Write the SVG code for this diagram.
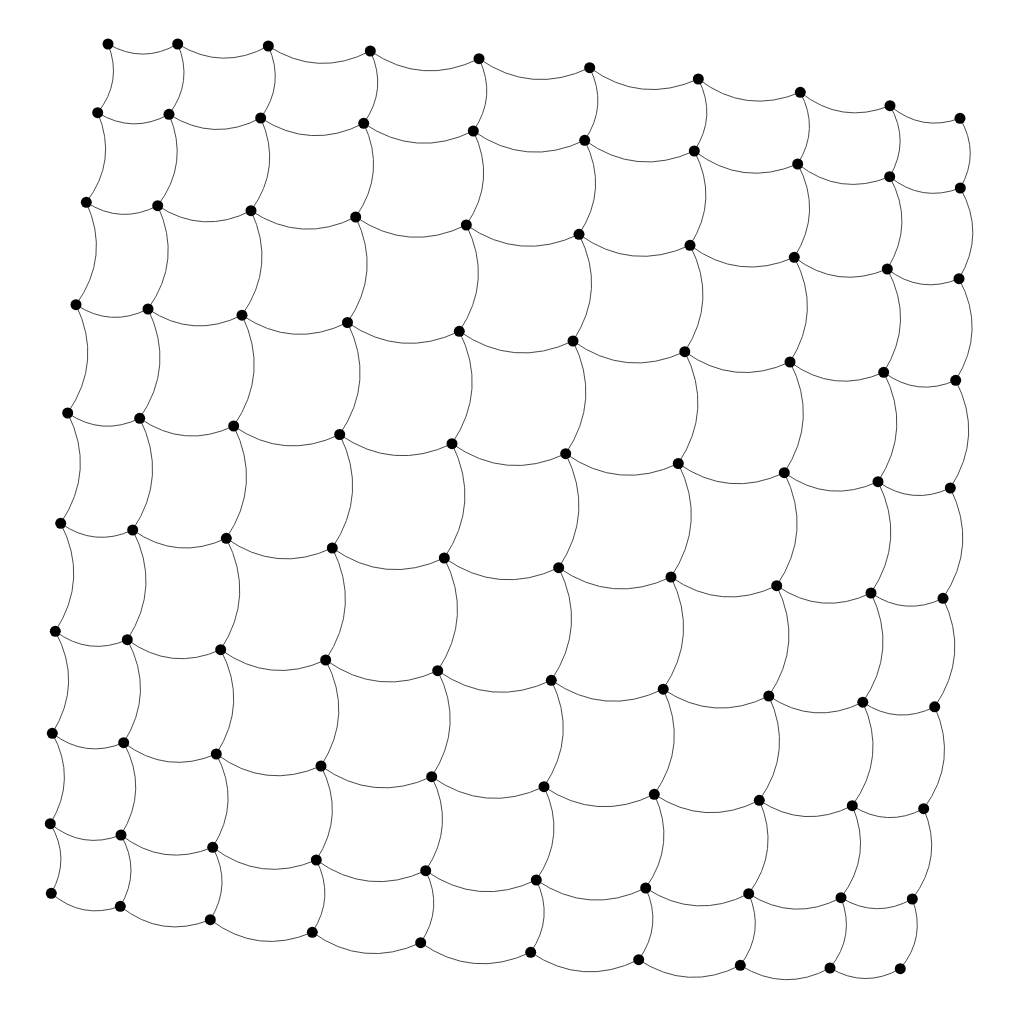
<svg xmlns="http://www.w3.org/2000/svg" width="1024" height="1024" viewBox="0 0 1024 1024">
<style>
.e{fill:none;stroke:#333;stroke-width:0.9}
.n{fill:#000}
</style>
<rect width="1024" height="1024" fill="#fff"/>
<g id="connectors">
<path class="e" d="M108 44Q142.9 64.2 177.7 44"/>
<path class="e" d="M177.7 44Q222.4 71.3 268.3 46"/>
<path class="e" d="M268.3 46Q317.9 78.1 370.3 51"/>
<path class="e" d="M370.3 51Q422.4 86.4 479 58.7"/>
<path class="e" d="M479 58.7Q531.7 95.3 589.7 67.7"/>
<path class="e" d="M589.7 67.7Q640.7 104.8 698.3 79"/>
<path class="e" d="M698.3 79Q745.4 115.2 800.3 92.3"/>
<path class="e" d="M800.3 92.3Q841.3 125 890 105.7"/>
<path class="e" d="M890 105.7Q921.3 132.3 960 118.3"/>
<path class="e" d="M97.7 112.7Q132.9 134.2 169 114.3"/>
<path class="e" d="M169 114.3Q213.8 142.7 260.7 118"/>
<path class="e" d="M260.7 118Q310.7 150.5 363.7 123.3"/>
<path class="e" d="M363.7 123.3Q416.3 158.9 473.3 131"/>
<path class="e" d="M473.3 131Q526.3 168 584.7 140.3"/>
<path class="e" d="M584.7 140.3Q636.4 177.4 694.3 151"/>
<path class="e" d="M694.3 151Q742.2 187.5 797.7 164"/>
<path class="e" d="M797.7 164Q840 197 889.7 176.7"/>
<path class="e" d="M889.7 176.7Q921.7 202.8 960.3 188"/>
<path class="e" d="M86.3 202.3Q121 224.7 157.7 205.7"/>
<path class="e" d="M157.7 205.7Q202.9 235.3 251 210.7"/>
<path class="e" d="M251 210.7Q301.5 244.2 355.7 217"/>
<path class="e" d="M355.7 217Q408.7 253.1 466.3 225"/>
<path class="e" d="M466.3 225Q520 262.3 579 234.3"/>
<path class="e" d="M579 234.3Q631.3 272 690 245.3"/>
<path class="e" d="M690 245.3Q738.7 281.6 794.3 257.3"/>
<path class="e" d="M794.3 257.3Q837.4 290.1 887.3 269"/>
<path class="e" d="M887.3 269Q920.3 294.6 959 278.7"/>
<path class="e" d="M76 304.7Q110.8 327.7 148 309"/>
<path class="e" d="M148 309Q193.2 339.4 242 315.2"/>
<path class="e" d="M242 315.2Q292.6 349.5 347.5 322.5"/>
<path class="e" d="M347.5 322.5Q400.9 359.3 459.3 331.3"/>
<path class="e" d="M459.3 331.3Q513.3 369.1 573 341"/>
<path class="e" d="M573 341Q625.8 378.8 684.8 351.7"/>
<path class="e" d="M684.8 351.7Q734.4 387.4 790 362"/>
<path class="e" d="M790 362Q833.9 394.3 883.7 372.3"/>
<path class="e" d="M883.7 372.3Q917.4 397.2 955.7 380.3"/>
<path class="e" d="M67.7 413Q102.2 436.5 139.7 418.3"/>
<path class="e" d="M139.7 418.3Q184.5 449.4 233.7 426"/>
<path class="e" d="M233.7 426Q284.2 461 339.7 434.5"/>
<path class="e" d="M339.7 434.5Q393.2 471.7 452 443.7"/>
<path class="e" d="M452 443.7Q506 481.7 565.7 453.7"/>
<path class="e" d="M565.7 453.7Q619.2 491.3 678.3 463.5"/>
<path class="e" d="M678.3 463.5Q728.6 498.8 784.3 472.7"/>
<path class="e" d="M784.3 472.7Q828.5 504.4 878 481.7"/>
<path class="e" d="M878 481.7Q912.3 505.8 950.3 488"/>
<path class="e" d="M60.7 523.3Q94.8 547.5 132.7 530"/>
<path class="e" d="M132.7 530Q177.1 561.3 226.3 538.3"/>
<path class="e" d="M226.3 538.3Q276.5 573.9 332.3 548"/>
<path class="e" d="M332.3 548Q385.4 585.5 444.3 558"/>
<path class="e" d="M444.3 558Q498.7 596 558.7 567.7"/>
<path class="e" d="M558.7 567.7Q612.2 604.9 671 577"/>
<path class="e" d="M671 577Q721.3 612 776.7 585.7"/>
<path class="e" d="M776.7 585.7Q821.7 616.7 871 593"/>
<path class="e" d="M871 593Q905.5 616.5 943 598.3"/>
<path class="e" d="M55.3 631.3Q88.9 656.4 127.3 639.7"/>
<path class="e" d="M127.3 639.7Q171.1 671.8 220.7 649.7"/>
<path class="e" d="M220.7 649.7Q270.2 685.3 325.7 660"/>
<path class="e" d="M325.7 660Q378.6 697.8 437.7 670.7"/>
<path class="e" d="M437.7 670.7Q491.7 708.4 551.3 680.3"/>
<path class="e" d="M551.3 680.3Q604.7 717.2 663.2 689.2"/>
<path class="e" d="M663.2 689.2Q714 723.2 768.8 696"/>
<path class="e" d="M768.8 696Q814 726.4 862.8 702.2"/>
<path class="e" d="M862.8 702.2Q897.4 725.4 934.7 706.8"/>
<path class="e" d="M52.3 733.3Q85.3 758.7 123.7 742.7"/>
<path class="e" d="M123.7 742.7Q166.7 775.2 216.3 754"/>
<path class="e" d="M216.3 754Q265.2 790.4 321 766"/>
<path class="e" d="M321 766Q373.3 803.5 431.7 776.7"/>
<path class="e" d="M431.7 776.7Q485 814.3 544 786.7"/>
<path class="e" d="M544 786.7Q597 822.5 654.3 794.3"/>
<path class="e" d="M654.3 794.3Q705.1 827.8 759.3 800.3"/>
<path class="e" d="M759.3 800.3Q804.2 830 852.3 805.7"/>
<path class="e" d="M852.3 805.7Q887.1 827.9 923.7 808.7"/>
<path class="e" d="M50.3 823.7Q82.4 849.9 121 835"/>
<path class="e" d="M121 835Q163.3 867.7 212.7 847.3"/>
<path class="e" d="M212.7 847.3Q260.8 883.7 316.3 860"/>
<path class="e" d="M316.3 860Q367.9 897.1 425.7 870.7"/>
<path class="e" d="M425.7 870.7Q478.3 907.4 536.3 880"/>
<path class="e" d="M536.3 880Q588.7 915.7 645.7 888"/>
<path class="e" d="M645.7 888Q695.6 920.7 748.7 893.7"/>
<path class="e" d="M748.7 893.7Q793.7 922.5 841 897.7"/>
<path class="e" d="M841 897.7Q876.3 919 912.3 899"/>
<path class="e" d="M51.3 893.3Q82 919.8 120.3 906.3"/>
<path class="e" d="M120.3 906.3Q161.4 939.1 210.3 919.7"/>
<path class="e" d="M210.3 919.7Q257.6 955.6 312.3 932.3"/>
<path class="e" d="M312.3 932.3Q363.5 968.9 420.7 942.7"/>
<path class="e" d="M420.7 942.7Q472.9 979.4 530.7 952.3"/>
<path class="e" d="M530.7 952.3Q582.6 987.3 638.7 959.7"/>
<path class="e" d="M638.7 959.7Q687.9 992 740.3 965.3"/>
<path class="e" d="M740.3 965.3Q784.4 992.7 830 968"/>
<path class="e" d="M830 968Q865 988.7 900.3 968.7"/>
<path class="e" d="M108 44Q122.8 81.3 97.7 112.7"/>
<path class="e" d="M97.7 112.7Q118 160.8 86.3 202.3"/>
<path class="e" d="M86.3 202.3Q110.8 256.5 76 304.7"/>
<path class="e" d="M76 304.7Q103.3 361.3 67.7 413"/>
<path class="e" d="M67.7 413Q96.2 470.2 60.7 523.3"/>
<path class="e" d="M60.7 523.3Q89.3 578.9 55.3 631.3"/>
<path class="e" d="M55.3 631.3Q83.4 683.2 52.3 733.3"/>
<path class="e" d="M52.3 733.3Q77.5 779.1 50.3 823.7"/>
<path class="e" d="M50.3 823.7Q71 858.2 51.3 893.3"/>
<path class="e" d="M177.7 44Q193.7 81.7 169 114.3"/>
<path class="e" d="M169 114.3Q189.9 163.3 157.7 205.7"/>
<path class="e" d="M157.7 205.7Q182.8 260.2 148 309"/>
<path class="e" d="M148 309Q175.6 366.1 139.7 418.3"/>
<path class="e" d="M139.7 418.3Q168.6 476.2 132.7 530"/>
<path class="e" d="M132.7 530Q161.8 586.4 127.3 639.7"/>
<path class="e" d="M127.3 639.7Q155.4 692.2 123.7 742.7"/>
<path class="e" d="M123.7 742.7Q149.1 789.6 121 835"/>
<path class="e" d="M121 835Q141.3 870.9 120.3 906.3"/>
<path class="e" d="M268.3 46Q285.4 84.2 260.7 118"/>
<path class="e" d="M260.7 118Q282.7 167.2 251 210.7"/>
<path class="e" d="M251 210.7Q276.8 265.6 242 315.2"/>
<path class="e" d="M242 315.2Q270 373 233.7 426"/>
<path class="e" d="M233.7 426Q262.6 484.3 226.3 538.3"/>
<path class="e" d="M226.3 538.3Q255.8 595.6 220.7 649.7"/>
<path class="e" d="M220.7 649.7Q248.8 703.1 216.3 754"/>
<path class="e" d="M216.3 754Q241.6 801.7 212.7 847.3"/>
<path class="e" d="M212.7 847.3Q232.5 884.2 210.3 919.7"/>
<path class="e" d="M370.3 51Q388 89.1 363.7 123.3"/>
<path class="e" d="M363.7 123.3Q386.9 172.5 355.7 217"/>
<path class="e" d="M355.7 217Q382.2 272.1 347.5 322.5"/>
<path class="e" d="M347.5 322.5Q376.1 380.8 339.7 434.5"/>
<path class="e" d="M339.7 434.5Q368.9 493.4 332.3 548"/>
<path class="e" d="M332.3 548Q361.5 605.9 325.7 660"/>
<path class="e" d="M325.7 660Q354.1 714.4 321 766"/>
<path class="e" d="M321 766Q345.9 814.4 316.3 860"/>
<path class="e" d="M316.3 860Q335.3 897.3 312.3 932.3"/>
<path class="e" d="M479 58.7Q497.1 96.5 473.3 131"/>
<path class="e" d="M473.3 131Q497.1 180 466.3 225"/>
<path class="e" d="M466.3 225Q493.6 280.2 459.3 331.3"/>
<path class="e" d="M459.3 331.3Q488.3 389.6 452 443.7"/>
<path class="e" d="M452 443.7Q481.3 503.1 444.3 558"/>
<path class="e" d="M444.3 558Q473.7 616.3 437.7 670.7"/>
<path class="e" d="M437.7 670.7Q465.4 725.4 431.7 776.7"/>
<path class="e" d="M431.7 776.7Q456 825.4 425.7 870.7"/>
<path class="e" d="M425.7 870.7Q444.1 908.2 420.7 942.7"/>
<path class="e" d="M589.7 67.7Q608.3 105.5 584.7 140.3"/>
<path class="e" d="M584.7 140.3Q609.1 189 579 234.3"/>
<path class="e" d="M579 234.3Q606.9 289.4 573 341"/>
<path class="e" d="M573 341Q602 399.5 565.7 453.7"/>
<path class="e" d="M565.7 453.7Q595.3 512.7 558.7 567.7"/>
<path class="e" d="M558.7 567.7Q587.7 626.2 551.3 680.3"/>
<path class="e" d="M551.3 680.3Q578.5 735.6 544 786.7"/>
<path class="e" d="M544 786.7Q567.2 835.6 536.3 880"/>
<path class="e" d="M536.3 880Q554.5 917.8 530.7 952.3"/>
<path class="e" d="M698.3 79Q717.2 116.2 694.3 151"/>
<path class="e" d="M694.3 151Q719.5 199.4 690 245.3"/>
<path class="e" d="M690 245.3Q718.3 300 684.8 351.7"/>
<path class="e" d="M684.8 351.7Q714 409.5 678.3 463.5"/>
<path class="e" d="M678.3 463.5Q707.6 522.4 671 577"/>
<path class="e" d="M671 577Q699.6 635.4 663.2 689.2"/>
<path class="e" d="M663.2 689.2Q689.2 744.3 654.3 794.3"/>
<path class="e" d="M654.3 794.3Q677.2 843.6 645.7 888"/>
<path class="e" d="M645.7 888Q663 925.9 638.7 959.7"/>
<path class="e" d="M800.3 92.3Q819.8 128.9 797.7 164"/>
<path class="e" d="M797.7 164Q823.1 211.6 794.3 257.3"/>
<path class="e" d="M794.3 257.3Q822.5 310.9 790 362"/>
<path class="e" d="M790 362Q819.3 419 784.3 472.7"/>
<path class="e" d="M784.3 472.7Q813.3 531.4 776.7 585.7"/>
<path class="e" d="M776.7 585.7Q804.7 643.1 768.8 696"/>
<path class="e" d="M768.8 696Q794.3 750.9 759.3 800.3"/>
<path class="e" d="M759.3 800.3Q781.1 850.1 748.7 893.7"/>
<path class="e" d="M748.7 893.7Q765.3 931.9 740.3 965.3"/>
<path class="e" d="M890 105.7Q910.4 141.3 889.7 176.7"/>
<path class="e" d="M889.7 176.7Q915.3 223.6 887.3 269"/>
<path class="e" d="M887.3 269Q915.5 321.7 883.7 372.3"/>
<path class="e" d="M883.7 372.3Q912.6 428.7 878 481.7"/>
<path class="e" d="M878 481.7Q906.8 539.4 871 593"/>
<path class="e" d="M871 593Q898.6 650 862.8 702.2"/>
<path class="e" d="M862.8 702.2Q887.6 757 852.3 805.7"/>
<path class="e" d="M852.3 805.7Q873.3 855 841 897.7"/>
<path class="e" d="M841 897.7Q855.9 936 830 968"/>
<path class="e" d="M960 118.3Q980.4 153.1 960.3 188"/>
<path class="e" d="M960.3 188Q986 233.7 959 278.7"/>
<path class="e" d="M959 278.7Q986.8 330.5 955.7 380.3"/>
<path class="e" d="M955.7 380.3Q984.2 435.7 950.3 488"/>
<path class="e" d="M950.3 488Q978.6 545.3 943 598.3"/>
<path class="e" d="M943 598.3Q970.3 655 934.7 706.8"/>
<path class="e" d="M934.7 706.8Q958.8 760.9 923.7 808.7"/>
<path class="e" d="M923.7 808.7Q944.2 857.2 912.3 899"/>
<path class="e" d="M912.3 899Q926.5 937.3 900.3 968.7"/>
</g>
<g id="nodes">
<g id="n0_0"><circle class="n" cx="108" cy="44" r="5.5"/></g>
<g id="n0_1"><circle class="n" cx="177.7" cy="44" r="5.5"/></g>
<g id="n0_2"><circle class="n" cx="268.3" cy="46" r="5.5"/></g>
<g id="n0_3"><circle class="n" cx="370.3" cy="51" r="5.5"/></g>
<g id="n0_4"><circle class="n" cx="479" cy="58.7" r="5.5"/></g>
<g id="n0_5"><circle class="n" cx="589.7" cy="67.7" r="5.5"/></g>
<g id="n0_6"><circle class="n" cx="698.3" cy="79" r="5.5"/></g>
<g id="n0_7"><circle class="n" cx="800.3" cy="92.3" r="5.5"/></g>
<g id="n0_8"><circle class="n" cx="890" cy="105.7" r="5.5"/></g>
<g id="n0_9"><circle class="n" cx="960" cy="118.3" r="5.5"/></g>
<g id="n1_0"><circle class="n" cx="97.7" cy="112.7" r="5.5"/></g>
<g id="n1_1"><circle class="n" cx="169" cy="114.3" r="5.5"/></g>
<g id="n1_2"><circle class="n" cx="260.7" cy="118" r="5.5"/></g>
<g id="n1_3"><circle class="n" cx="363.7" cy="123.3" r="5.5"/></g>
<g id="n1_4"><circle class="n" cx="473.3" cy="131" r="5.5"/></g>
<g id="n1_5"><circle class="n" cx="584.7" cy="140.3" r="5.5"/></g>
<g id="n1_6"><circle class="n" cx="694.3" cy="151" r="5.5"/></g>
<g id="n1_7"><circle class="n" cx="797.7" cy="164" r="5.5"/></g>
<g id="n1_8"><circle class="n" cx="889.7" cy="176.7" r="5.5"/></g>
<g id="n1_9"><circle class="n" cx="960.3" cy="188" r="5.5"/></g>
<g id="n2_0"><circle class="n" cx="86.3" cy="202.3" r="5.5"/></g>
<g id="n2_1"><circle class="n" cx="157.7" cy="205.7" r="5.5"/></g>
<g id="n2_2"><circle class="n" cx="251" cy="210.7" r="5.5"/></g>
<g id="n2_3"><circle class="n" cx="355.7" cy="217" r="5.5"/></g>
<g id="n2_4"><circle class="n" cx="466.3" cy="225" r="5.5"/></g>
<g id="n2_5"><circle class="n" cx="579" cy="234.3" r="5.5"/></g>
<g id="n2_6"><circle class="n" cx="690" cy="245.3" r="5.5"/></g>
<g id="n2_7"><circle class="n" cx="794.3" cy="257.3" r="5.5"/></g>
<g id="n2_8"><circle class="n" cx="887.3" cy="269" r="5.5"/></g>
<g id="n2_9"><circle class="n" cx="959" cy="278.7" r="5.5"/></g>
<g id="n3_0"><circle class="n" cx="76" cy="304.7" r="5.5"/></g>
<g id="n3_1"><circle class="n" cx="148" cy="309" r="5.5"/></g>
<g id="n3_2"><circle class="n" cx="242" cy="315.2" r="5.5"/></g>
<g id="n3_3"><circle class="n" cx="347.5" cy="322.5" r="5.5"/></g>
<g id="n3_4"><circle class="n" cx="459.3" cy="331.3" r="5.5"/></g>
<g id="n3_5"><circle class="n" cx="573" cy="341" r="5.5"/></g>
<g id="n3_6"><circle class="n" cx="684.8" cy="351.7" r="5.5"/></g>
<g id="n3_7"><circle class="n" cx="790" cy="362" r="5.5"/></g>
<g id="n3_8"><circle class="n" cx="883.7" cy="372.3" r="5.5"/></g>
<g id="n3_9"><circle class="n" cx="955.7" cy="380.3" r="5.5"/></g>
<g id="n4_0"><circle class="n" cx="67.7" cy="413" r="5.5"/></g>
<g id="n4_1"><circle class="n" cx="139.7" cy="418.3" r="5.5"/></g>
<g id="n4_2"><circle class="n" cx="233.7" cy="426" r="5.5"/></g>
<g id="n4_3"><circle class="n" cx="339.7" cy="434.5" r="5.5"/></g>
<g id="n4_4"><circle class="n" cx="452" cy="443.7" r="5.5"/></g>
<g id="n4_5"><circle class="n" cx="565.7" cy="453.7" r="5.5"/></g>
<g id="n4_6"><circle class="n" cx="678.3" cy="463.5" r="5.5"/></g>
<g id="n4_7"><circle class="n" cx="784.3" cy="472.7" r="5.5"/></g>
<g id="n4_8"><circle class="n" cx="878" cy="481.7" r="5.5"/></g>
<g id="n4_9"><circle class="n" cx="950.3" cy="488" r="5.5"/></g>
<g id="n5_0"><circle class="n" cx="60.7" cy="523.3" r="5.5"/></g>
<g id="n5_1"><circle class="n" cx="132.7" cy="530" r="5.5"/></g>
<g id="n5_2"><circle class="n" cx="226.3" cy="538.3" r="5.5"/></g>
<g id="n5_3"><circle class="n" cx="332.3" cy="548" r="5.5"/></g>
<g id="n5_4"><circle class="n" cx="444.3" cy="558" r="5.5"/></g>
<g id="n5_5"><circle class="n" cx="558.7" cy="567.7" r="5.5"/></g>
<g id="n5_6"><circle class="n" cx="671" cy="577" r="5.5"/></g>
<g id="n5_7"><circle class="n" cx="776.7" cy="585.7" r="5.5"/></g>
<g id="n5_8"><circle class="n" cx="871" cy="593" r="5.5"/></g>
<g id="n5_9"><circle class="n" cx="943" cy="598.3" r="5.5"/></g>
<g id="n6_0"><circle class="n" cx="55.3" cy="631.3" r="5.5"/></g>
<g id="n6_1"><circle class="n" cx="127.3" cy="639.7" r="5.5"/></g>
<g id="n6_2"><circle class="n" cx="220.7" cy="649.7" r="5.5"/></g>
<g id="n6_3"><circle class="n" cx="325.7" cy="660" r="5.5"/></g>
<g id="n6_4"><circle class="n" cx="437.7" cy="670.7" r="5.5"/></g>
<g id="n6_5"><circle class="n" cx="551.3" cy="680.3" r="5.5"/></g>
<g id="n6_6"><circle class="n" cx="663.2" cy="689.2" r="5.5"/></g>
<g id="n6_7"><circle class="n" cx="768.8" cy="696" r="5.5"/></g>
<g id="n6_8"><circle class="n" cx="862.8" cy="702.2" r="5.5"/></g>
<g id="n6_9"><circle class="n" cx="934.7" cy="706.8" r="5.5"/></g>
<g id="n7_0"><circle class="n" cx="52.3" cy="733.3" r="5.5"/></g>
<g id="n7_1"><circle class="n" cx="123.7" cy="742.7" r="5.5"/></g>
<g id="n7_2"><circle class="n" cx="216.3" cy="754" r="5.5"/></g>
<g id="n7_3"><circle class="n" cx="321" cy="766" r="5.5"/></g>
<g id="n7_4"><circle class="n" cx="431.7" cy="776.7" r="5.5"/></g>
<g id="n7_5"><circle class="n" cx="544" cy="786.7" r="5.5"/></g>
<g id="n7_6"><circle class="n" cx="654.3" cy="794.3" r="5.5"/></g>
<g id="n7_7"><circle class="n" cx="759.3" cy="800.3" r="5.5"/></g>
<g id="n7_8"><circle class="n" cx="852.3" cy="805.7" r="5.5"/></g>
<g id="n7_9"><circle class="n" cx="923.7" cy="808.7" r="5.5"/></g>
<g id="n8_0"><circle class="n" cx="50.3" cy="823.7" r="5.5"/></g>
<g id="n8_1"><circle class="n" cx="121" cy="835" r="5.5"/></g>
<g id="n8_2"><circle class="n" cx="212.7" cy="847.3" r="5.5"/></g>
<g id="n8_3"><circle class="n" cx="316.3" cy="860" r="5.5"/></g>
<g id="n8_4"><circle class="n" cx="425.7" cy="870.7" r="5.5"/></g>
<g id="n8_5"><circle class="n" cx="536.3" cy="880" r="5.5"/></g>
<g id="n8_6"><circle class="n" cx="645.7" cy="888" r="5.5"/></g>
<g id="n8_7"><circle class="n" cx="748.7" cy="893.7" r="5.5"/></g>
<g id="n8_8"><circle class="n" cx="841" cy="897.7" r="5.5"/></g>
<g id="n8_9"><circle class="n" cx="912.3" cy="899" r="5.5"/></g>
<g id="n9_0"><circle class="n" cx="51.3" cy="893.3" r="5.5"/></g>
<g id="n9_1"><circle class="n" cx="120.3" cy="906.3" r="5.5"/></g>
<g id="n9_2"><circle class="n" cx="210.3" cy="919.7" r="5.5"/></g>
<g id="n9_3"><circle class="n" cx="312.3" cy="932.3" r="5.5"/></g>
<g id="n9_4"><circle class="n" cx="420.7" cy="942.7" r="5.5"/></g>
<g id="n9_5"><circle class="n" cx="530.7" cy="952.3" r="5.5"/></g>
<g id="n9_6"><circle class="n" cx="638.7" cy="959.7" r="5.5"/></g>
<g id="n9_7"><circle class="n" cx="740.3" cy="965.3" r="5.5"/></g>
<g id="n9_8"><circle class="n" cx="830" cy="968" r="5.5"/></g>
<g id="n9_9"><circle class="n" cx="900.3" cy="968.7" r="5.5"/></g>
</g>
</svg>
